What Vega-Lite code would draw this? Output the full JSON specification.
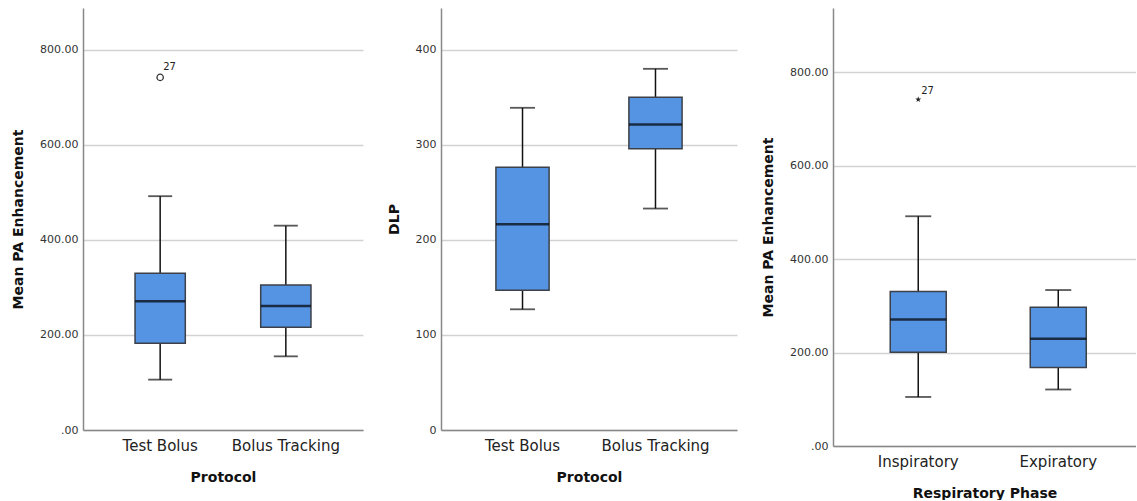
{
  "$schema": "https://vega.github.io/schema/vega-lite/v6.json",
  "padding": {"left": 11, "top": 8, "right": 0, "bottom": 0},
  "spacing": 24,
  "background": "white",
  "config": {
    "view": {"stroke": null},
    "font": "DejaVu Sans",
    "axis": {
      "labelFont": "DejaVu Sans",
      "titleFont": "DejaVu Sans",
      "titleFontWeight": "bold",
      "titleFontSize": 14,
      "titleColor": "#111",
      "labelColor": "#333",
      "domainColor": "#888",
      "domainWidth": 1.5,
      "ticks": false,
      "gridColor": "#d2d2d2",
      "gridWidth": 1.5
    },
    "axisX": {"labelFontSize": 15, "labelPadding": 8, "titlePadding": 17, "grid": false, "labelAngle": 0, "labelColor": "#222"},
    "axisY": {"labelFontSize": 11, "labelPadding": 5, "titlePadding": 14}
  },
  "datasets": {
    "p1": [
      {"group": "Test Bolus", "lo": 106, "q1": 182.5, "med": 271, "q3": 330, "hi": 492},
      {"group": "Bolus Tracking", "lo": 155, "q1": 216, "med": 261, "q3": 305, "hi": 430}
    ],
    "p1out": [{"group": "Test Bolus", "value": 742, "label": "27"}],
    "p2": [
      {"group": "Test Bolus", "lo": 127, "q1": 147, "med": 216.5, "q3": 276.5, "hi": 339},
      {"group": "Bolus Tracking", "lo": 233, "q1": 296, "med": 321.5, "q3": 350, "hi": 380}
    ],
    "p3": [
      {"group": "Inspiratory", "lo": 105, "q1": 201, "med": 271, "q3": 331, "hi": 492},
      {"group": "Expiratory", "lo": 121, "q1": 168, "med": 229.6, "q3": 297, "hi": 334}
    ],
    "p3out": [{"group": "Inspiratory", "value": 742, "label": "27"}]
  },
  "hconcat": [
    {
      "width": 280,
      "height": 422,
      "data": {"name": "p1"},
      "layer": [
        {"mark": {"type": "rule", "color": "#111", "strokeWidth": 1.5},
         "encoding": {
           "x": {"field": "group", "type": "nominal", "title": "Protocol",
             "scale": {"domain": ["Test Bolus", "Bolus Tracking"], "paddingInner": 0.6, "paddingOuter": 0.414}},
           "y": {"field": "lo", "type": "quantitative", "title": "Mean PA Enhancement",
             "scale": {"domain": [0, 888], "nice": false},
             "axis": {"values": [0, 200, 400, 600, 800], "labelExpr": "datum.value == 0 ? '.00' : format(datum.value, '.2f')"}},
           "y2": {"field": "hi"}}},
        {"mark": {"type": "bar", "fill": "#5593E3", "stroke": "#3c4048", "strokeWidth": 1.5},
         "encoding": {"x": {"field": "group", "type": "nominal", "title": "Protocol"}, "y": {"field": "q1", "type": "quantitative", "title": "Mean PA Enhancement"}, "y2": {"field": "q3"}}},
        {"mark": {"type": "tick", "color": "#000", "size": 50, "thickness": 2.5},
         "encoding": {"x": {"field": "group", "type": "nominal", "title": "Protocol"}, "y": {"field": "med", "type": "quantitative", "title": "Mean PA Enhancement"}}},
        {"mark": {"type": "tick", "color": "#111", "size": 24, "thickness": 1.8},
         "encoding": {"x": {"field": "group", "type": "nominal", "title": "Protocol"}, "y": {"field": "lo", "type": "quantitative", "title": "Mean PA Enhancement"}}},
        {"mark": {"type": "tick", "color": "#111", "size": 24, "thickness": 1.8},
         "encoding": {"x": {"field": "group", "type": "nominal", "title": "Protocol"}, "y": {"field": "hi", "type": "quantitative", "title": "Mean PA Enhancement"}}},
        {"data": {"name": "p1out"},
         "mark": {"type": "point", "shape": "circle", "filled": false, "stroke": "#333", "strokeWidth": 1.3, "size": 40, "opacity": 1},
         "encoding": {"x": {"field": "group", "type": "nominal", "title": "Protocol"}, "y": {"field": "value", "type": "quantitative", "title": "Mean PA Enhancement"}}},
        {"data": {"name": "p1out"},
         "mark": {"type": "text", "align": "left", "baseline": "middle", "dx": 3, "dy": -10, "fontSize": 10, "color": "#222"},
         "encoding": {"x": {"field": "group", "type": "nominal", "title": "Protocol"}, "y": {"field": "value", "type": "quantitative", "title": "Mean PA Enhancement"}, "text": {"field": "label", "type": "nominal"}}}
      ]
    },
    {
      "width": 296,
      "height": 422,
      "data": {"name": "p2"},
      "layer": [
        {"mark": {"type": "rule", "color": "#111", "strokeWidth": 1.5},
         "encoding": {
           "x": {"field": "group", "type": "nominal", "title": "Protocol",
             "scale": {"domain": ["Test Bolus", "Bolus Tracking"], "paddingInner": 0.6, "paddingOuter": 0.413}},
           "y": {"field": "lo", "type": "quantitative", "title": "DLP",
             "scale": {"domain": [0, 444], "nice": false},
             "axis": {"values": [0, 100, 200, 300, 400]}},
           "y2": {"field": "hi"}}},
        {"mark": {"type": "bar", "fill": "#5593E3", "stroke": "#3c4048", "strokeWidth": 1.5},
         "encoding": {"x": {"field": "group", "type": "nominal", "title": "Protocol"}, "y": {"field": "q1", "type": "quantitative", "title": "DLP"}, "y2": {"field": "q3"}}},
        {"mark": {"type": "tick", "color": "#000", "size": 53, "thickness": 2.5},
         "encoding": {"x": {"field": "group", "type": "nominal", "title": "Protocol"}, "y": {"field": "med", "type": "quantitative", "title": "DLP"}}},
        {"mark": {"type": "tick", "color": "#111", "size": 25, "thickness": 1.8},
         "encoding": {"x": {"field": "group", "type": "nominal", "title": "Protocol"}, "y": {"field": "lo", "type": "quantitative", "title": "DLP"}}},
        {"mark": {"type": "tick", "color": "#111", "size": 25, "thickness": 1.8},
         "encoding": {"x": {"field": "group", "type": "nominal", "title": "Protocol"}, "y": {"field": "hi", "type": "quantitative", "title": "DLP"}}}
      ]
    },
    {
      "width": 303,
      "height": 438,
      "data": {"name": "p3"},
      "layer": [
        {"mark": {"type": "rule", "color": "#111", "strokeWidth": 1.5},
         "encoding": {
           "x": {"field": "group", "type": "nominal", "title": "Respiratory Phase",
             "scale": {"domain": ["Inspiratory", "Expiratory"], "paddingInner": 0.6, "paddingOuter": 0.382, "align": 0.535}},
           "y": {"field": "lo", "type": "quantitative", "title": "Mean PA Enhancement",
             "scale": {"domain": [0, 938], "nice": false},
             "axis": {"values": [0, 200, 400, 600, 800], "labelExpr": "datum.value == 0 ? '.00' : format(datum.value, '.2f')"}},
           "y2": {"field": "hi"}}},
        {"mark": {"type": "bar", "fill": "#5593E3", "stroke": "#3c4048", "strokeWidth": 1.5},
         "encoding": {"x": {"field": "group", "type": "nominal", "title": "Respiratory Phase"}, "y": {"field": "q1", "type": "quantitative", "title": "Mean PA Enhancement"}, "y2": {"field": "q3"}}},
        {"mark": {"type": "tick", "color": "#000", "size": 56, "thickness": 2.5},
         "encoding": {"x": {"field": "group", "type": "nominal", "title": "Respiratory Phase"}, "y": {"field": "med", "type": "quantitative", "title": "Mean PA Enhancement"}}},
        {"mark": {"type": "tick", "color": "#111", "size": 26, "thickness": 1.8},
         "encoding": {"x": {"field": "group", "type": "nominal", "title": "Respiratory Phase"}, "y": {"field": "lo", "type": "quantitative", "title": "Mean PA Enhancement"}}},
        {"mark": {"type": "tick", "color": "#111", "size": 26, "thickness": 1.8},
         "encoding": {"x": {"field": "group", "type": "nominal", "title": "Respiratory Phase"}, "y": {"field": "hi", "type": "quantitative", "title": "Mean PA Enhancement"}}},
        {"data": {"name": "p3out"},
         "mark": {"type": "point", "shape": "M0,-1L0.223,-0.307L0.951,-0.309L0.361,0.117L0.588,0.809L0,0.38L-0.588,0.809L-0.361,0.117L-0.951,-0.309L-0.223,-0.307Z", "filled": true, "color": "#222", "size": 40, "opacity": 1},
         "encoding": {"x": {"field": "group", "type": "nominal", "title": "Respiratory Phase"}, "y": {"field": "value", "type": "quantitative", "title": "Mean PA Enhancement"}}},
        {"data": {"name": "p3out"},
         "mark": {"type": "text", "align": "left", "baseline": "middle", "dx": 3, "dy": -9, "fontSize": 10, "color": "#222"},
         "encoding": {"x": {"field": "group", "type": "nominal", "title": "Respiratory Phase"}, "y": {"field": "value", "type": "quantitative", "title": "Mean PA Enhancement"}, "text": {"field": "label", "type": "nominal"}}}
      ]
    }
  ]
}
